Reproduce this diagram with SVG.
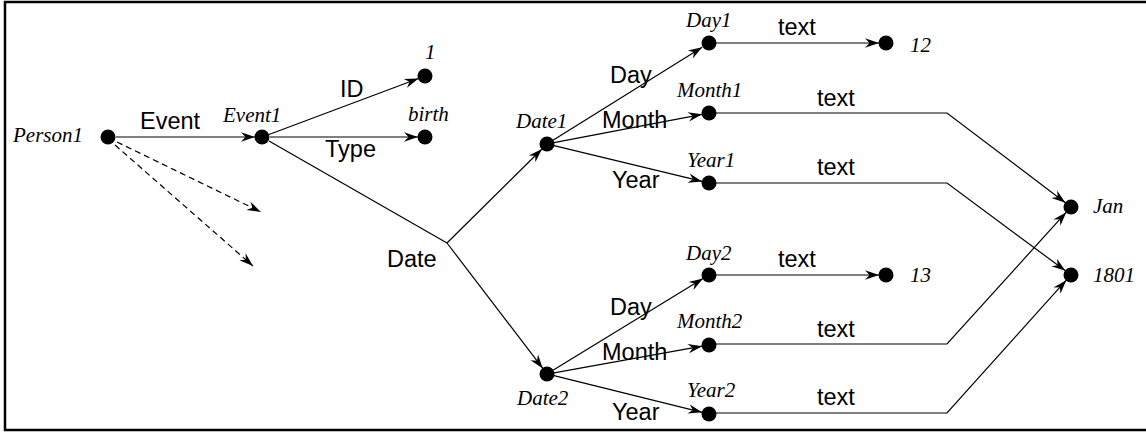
<svg xmlns="http://www.w3.org/2000/svg" width="1146" height="435" viewBox="0 0 1146 435">
<style>
.n{fill:#000}
.e{fill:none;stroke:#000;stroke-width:1.2}
.d{stroke-dasharray:6,4}
.lbl{font-family:"Liberation Serif","Times New Roman",serif;font-style:italic;font-size:21px;fill:#000}
.el{font-family:"Liberation Sans",Arial,sans-serif;font-size:23.5px;fill:#000}
</style>
<defs>
<marker id="ah" markerUnits="userSpaceOnUse" markerWidth="16" markerHeight="12" refX="14" refY="6" orient="auto" overflow="visible">
<path d="M14,6 L0,1.3 L4.5,6 L0,10.7 Z" fill="#000"/>
</marker>
</defs>
<rect x="5" y="2" width="1146" height="428" fill="#fff" stroke="#000" stroke-width="2.5"/>
<g id="connectors">
<line class="e" x1="116" y1="137" x2="255" y2="137" marker-end="url(#ah)"/>
<line class="e d" x1="117" y1="142" x2="261" y2="212" marker-end="url(#ah)"/>
<line class="e d" x1="115" y1="145" x2="253" y2="266" marker-end="url(#ah)"/>
<line class="e" x1="269" y1="134.5" x2="418.5" y2="78.5" marker-end="url(#ah)"/>
<line class="e" x1="270" y1="137" x2="418" y2="137" marker-end="url(#ah)"/>
<polyline class="e" points="269,141 447,243"/>
<line class="e" x1="447" y1="243" x2="542" y2="149" marker-end="url(#ah)"/>
<line class="e" x1="447" y1="243" x2="542.8" y2="368.4" marker-end="url(#ah)"/>
<line class="e" x1="553" y1="140.3" x2="702.2" y2="47.2" marker-end="url(#ah)"/>
<line class="e" x1="554" y1="142.7" x2="702.1" y2="114.3" marker-end="url(#ah)"/>
<line class="e" x1="554" y1="145.7" x2="702.2" y2="181.4" marker-end="url(#ah)"/>
<line class="e" x1="716" y1="43" x2="879" y2="43" marker-end="url(#ah)"/>
<polyline class="e" points="716,113 947,113 1065.4,202.8" marker-end="url(#ah)"/>
<polyline class="e" points="716,183 947,183 1065.4,270.8" marker-end="url(#ah)"/>
<line class="e" x1="553" y1="370.3" x2="703" y2="278.6" marker-end="url(#ah)"/>
<line class="e" x1="554" y1="372.8" x2="702.1" y2="346.2" marker-end="url(#ah)"/>
<line class="e" x1="554" y1="375.7" x2="702.2" y2="412.3" marker-end="url(#ah)"/>
<line class="e" x1="716" y1="275" x2="879" y2="275" marker-end="url(#ah)"/>
<polyline class="e" points="716,344 947,344 1066.3,212.2" marker-end="url(#ah)"/>
<polyline class="e" points="716,413 947,413 1066.3,280.2" marker-end="url(#ah)"/>
<text class="el" x="140" y="129">Event</text>
<text class="el" x="340" y="97">ID</text>
<text class="el" x="325" y="157">Type</text>
<text class="el" x="387" y="267">Date</text>
<text class="el" x="610" y="83">Day</text>
<text class="el" x="602" y="128">Month</text>
<text class="el" x="612" y="188">Year</text>
<text class="el" x="610" y="315">Day</text>
<text class="el" x="602" y="360">Month</text>
<text class="el" x="612" y="420">Year</text>
<text class="el" x="778" y="35">text</text>
<text class="el" x="817" y="106">text</text>
<text class="el" x="817" y="175">text</text>
<text class="el" x="778" y="267">text</text>
<text class="el" x="817" y="337">text</text>
<text class="el" x="817" y="405">text</text>
</g>
<g id="person1"><circle class="n" cx="108" cy="137" r="7.5"/><text class="lbl" x="13" y="142">Person1</text></g>
<g id="event1"><circle class="n" cx="262" cy="137" r="7.5"/><text class="lbl" x="223" y="122">Event1</text></g>
<g id="id1"><circle class="n" cx="425" cy="76" r="7.5"/><text class="lbl" x="425" y="59">1</text></g>
<g id="birth"><circle class="n" cx="425" cy="137" r="7.5"/><text class="lbl" x="408" y="121">birth</text></g>
<g id="date1"><circle class="n" cx="547" cy="144" r="7.5"/><text class="lbl" x="516" y="128">Date1</text></g>
<g id="date2"><circle class="n" cx="547" cy="374" r="7.5"/><text class="lbl" x="517" y="405">Date2</text></g>
<g id="day1"><circle class="n" cx="709" cy="43" r="7.5"/><text class="lbl" x="686" y="27">Day1</text></g>
<g id="month1"><circle class="n" cx="709" cy="113" r="7.5"/><text class="lbl" x="677" y="97">Month1</text></g>
<g id="year1"><circle class="n" cx="709" cy="183" r="7.5"/><text class="lbl" x="687" y="167">Year1</text></g>
<g id="day2"><circle class="n" cx="709" cy="275" r="7.5"/><text class="lbl" x="686" y="260">Day2</text></g>
<g id="month2"><circle class="n" cx="709" cy="345" r="7.5"/><text class="lbl" x="677" y="328">Month2</text></g>
<g id="year2"><circle class="n" cx="709" cy="414" r="7.5"/><text class="lbl" x="687" y="397">Year2</text></g>
<g id="v12"><circle class="n" cx="886" cy="43" r="7.5"/><text class="lbl" x="910" y="52">12</text></g>
<g id="v13"><circle class="n" cx="886" cy="275" r="7.5"/><text class="lbl" x="910" y="282">13</text></g>
<g id="jan"><circle class="n" cx="1071" cy="207" r="7.5"/><text class="lbl" x="1093" y="213">Jan</text></g>
<g id="v1801"><circle class="n" cx="1071" cy="275" r="7.5"/><text class="lbl" x="1093" y="282">1801</text></g>
</svg>
